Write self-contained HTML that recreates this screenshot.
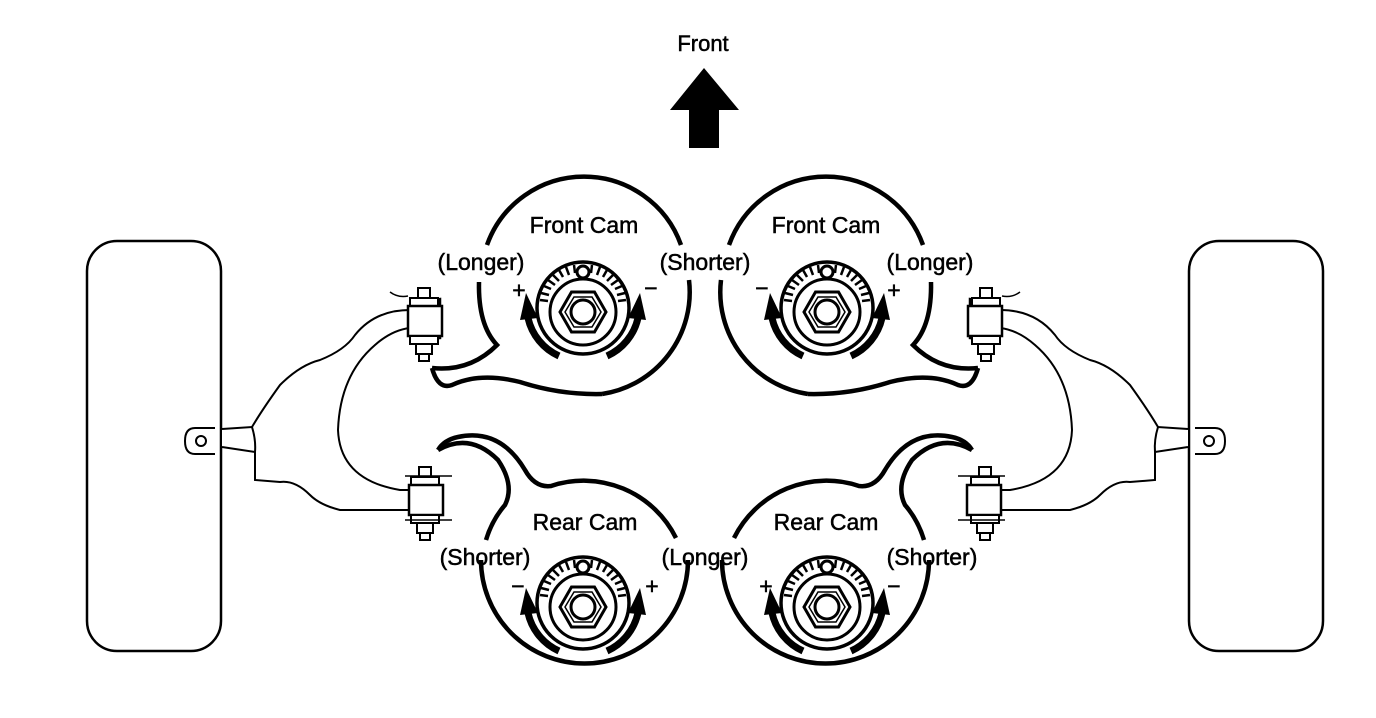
<!DOCTYPE html>
<html><head><meta charset="utf-8"><style>
html,body{margin:0;padding:0;background:#fff;}
svg{display:block;}
text{font-family:"Liberation Sans",Arial,sans-serif;fill:#000;stroke:#000;stroke-width:0.5;}
</style></head><body>
<svg width="1376" height="718" viewBox="0 0 1376 718" xmlns="http://www.w3.org/2000/svg">
<defs>
<g id="dial">
  <circle cx="0" cy="0" r="46" fill="none" stroke="#000" stroke-width="3.5"/>
  <g stroke="#000" stroke-width="2.5">
    <line x1="-43" y1="-8" x2="-35" y2="-7"/><line x1="-42" y1="-15" x2="-34" y2="-13"/>
    <line x1="-39" y1="-22" x2="-32" y2="-19"/><line x1="-35" y1="-28" x2="-28" y2="-23"/>
    <line x1="-30" y1="-33" x2="-24" y2="-27"/><line x1="-24" y1="-38" x2="-20" y2="-31"/>
    <line x1="-17" y1="-41" x2="-14" y2="-33"/><line x1="-9" y1="-43" x2="-8" y2="-35"/>
    <line x1="9" y1="-43" x2="8" y2="-35"/><line x1="17" y1="-41" x2="14" y2="-33"/>
    <line x1="24" y1="-38" x2="20" y2="-31"/><line x1="30" y1="-33" x2="24" y2="-27"/>
    <line x1="35" y1="-28" x2="28" y2="-23"/><line x1="39" y1="-22" x2="32" y2="-19"/>
    <line x1="42" y1="-15" x2="34" y2="-13"/><line x1="43" y1="-8" x2="35" y2="-7"/>
  </g>
  <circle cx="0" cy="-36" r="6" fill="#fff" stroke="#000" stroke-width="3"/>
  <circle cx="0" cy="4" r="33" fill="none" stroke="#000" stroke-width="3"/>
  <polygon points="-23,4 -11.5,-16 11.5,-16 23,4 11.5,24 -11.5,24" fill="none" stroke="#000" stroke-width="3"/>
  <polygon points="-18,4 -9,-11 9,-11 18,4 9,19 -9,19" fill="none" stroke="#000" stroke-width="1.5"/>
  <circle cx="0" cy="4" r="12" fill="none" stroke="#000" stroke-width="3"/>
  <path d="M-24,48 A55,55 0 0 1 -55,10" fill="none" stroke="#000" stroke-width="7"/>
  <polygon points="-63,12 -57,-15 -45,10" fill="#000"/>
  <path d="M24,48 A55,55 0 0 0 55,10" fill="none" stroke="#000" stroke-width="7"/>
  <polygon points="63,12 57,-15 45,10" fill="#000"/>
</g>
<g id="bolt">
  <rect x="-6" y="-30" width="12" height="10" fill="#fff" stroke="#000" stroke-width="2"/>
  <rect x="-14" y="-20" width="28" height="8" fill="#fff" stroke="#000" stroke-width="2"/>
  <rect x="-16" y="-12" width="34" height="30" fill="#fff" stroke="#000" stroke-width="2.5"/>
  <rect x="-14" y="18" width="28" height="8" fill="#fff" stroke="#000" stroke-width="2"/>
  <rect x="-8" y="26" width="16" height="10" fill="#fff" stroke="#000" stroke-width="2"/>
  <rect x="-5" y="36" width="10" height="7" fill="#fff" stroke="#000" stroke-width="2"/>
</g>
<g id="half">
  <rect x="87" y="241" width="134" height="410" rx="30" fill="#fff" stroke="#000" stroke-width="2.5"/>
  <path d="M215,428 L195,428 Q185,428 185,441 Q185,454 195,454 L215,454" fill="#fff" stroke="#000" stroke-width="2"/>
  <circle cx="201" cy="441" r="5" fill="none" stroke="#000" stroke-width="2"/>
  <path d="M222,429 L252,427 Q256,440 255,452 L222,447" fill="#fff" stroke="#000" stroke-width="2"/>
  <path d="M252,427 Q262,410 280,385 Q300,365 320,360 Q345,350 355,335 Q375,310 410,310 L418,310 L418,328 L410,328 Q392,330 375,345 Q340,375 338,430 Q340,480 400,490 L418,490 L418,510 L340,510 Q320,505 310,495 Q295,480 280,482 L255,480 L255,452" fill="none" stroke="#000" stroke-width="2"/>
  <path d="M418,302 L440,299 L440,338 L420,340" fill="none" stroke="#000" stroke-width="2.5"/>
  <use href="#bolt" x="424" y="318"/>
  <path d="M390,292 Q398,298 408,296" fill="none" stroke="#000" stroke-width="1.5"/>
  <use href="#bolt" x="425" y="497"/>
  <line x1="405" y1="476" x2="452" y2="476" stroke="#000" stroke-width="1.5"/>
  <line x1="405" y1="520" x2="452" y2="520" stroke="#000" stroke-width="1.5"/>
  <path d="M487,245 A103,103 0 0 1 681,245" fill="none" stroke="#000" stroke-width="4.5"/>
  <path d="M689,280 A103,103 0 0 1 602,394" fill="none" stroke="#000" stroke-width="4.5"/>
  <path d="M602,394 Q560,395 520,382 Q480,372 452,385 Q438,390 432,368" fill="none" stroke="#000" stroke-width="4.5"/>
  <path d="M479,282 Q478,325 497,345 Q470,372 432,368" fill="none" stroke="#000" stroke-width="4.5"/>
  <use href="#dial" x="583" y="308"/>
  <path d="M481,560 A103,103 0 0 0 688,560" fill="none" stroke="#000" stroke-width="4.5"/>
  <path d="M676,538 A103,103 0 0 0 551,486 Q535,488 525,470 Q500,428 458,437 Q444,440 438,450" fill="none" stroke="#000" stroke-width="4.5"/>
  <path d="M438,450 Q470,432 498,460 Q515,485 505,505 Q492,520 486,540" fill="none" stroke="#000" stroke-width="4.5"/>
  <use href="#dial" x="583" y="603"/>
</g>
</defs>

<text x="703" y="51" font-size="22" text-anchor="middle">Front</text>
<polygon points="704,68 739,110 719,110 719,148 689,148 689,110 670,110" fill="#000"/>

<use href="#half"/>
<use href="#half" transform="translate(1410,0) scale(-1,1)"/>

<g font-size="23" text-anchor="middle">
<text x="584" y="233">Front Cam</text>
<text x="826" y="233">Front Cam</text>
<text x="585" y="530">Rear Cam</text>
<text x="826" y="530">Rear Cam</text>
<text x="481" y="270">(Longer)</text>
<text x="705" y="270">(Shorter)</text>
<text x="930" y="270">(Longer)</text>
<text x="485" y="565">(Shorter)</text>
<text x="705" y="565">(Longer)</text>
<text x="932" y="565">(Shorter)</text>
<text x="519" y="298">+</text>
<text x="651" y="296">−</text>
<text x="762" y="296">−</text>
<text x="894" y="298">+</text>
<text x="518" y="594">−</text>
<text x="652" y="594">+</text>
<text x="766" y="594">+</text>
<text x="894" y="594">−</text>
</g>
</svg>
</body></html>
